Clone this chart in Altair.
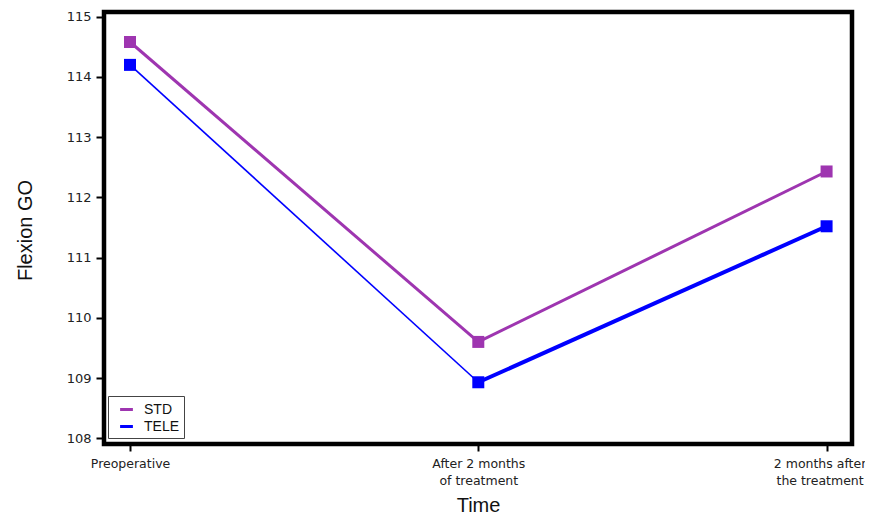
import altair as alt
import pandas as pd

# ---- data ----
categories = ["Preoperative", "After 2 months\nof treatment", "2 months after\nthe treatment"]
groups = ["STD", "TELE"]
std_values = [114.58, 109.60, 112.43]
tele_values = [114.20, 108.93, 111.52]
y_ticks = [108, 109, 110, 111, 112, 113, 114, 115]

# ---- styles (kept separate from data) ----
colors = {"STD": "#9E35B0", "TELE": "#0000FF"}
seg_widths = {"STD": [3.0, 3.0], "TELE": [1.6, 4.0]}

series = {"STD": std_values, "TELE": tele_values}

pts = []
for g in groups:
    for i, v in enumerate(series[g]):
        pts.append({"group": g, "x": i, "value": v})
points = pd.DataFrame(pts)

segs = []
for g in groups:
    vals = series[g]
    for i in range(len(vals) - 1):
        sid = f"{g}-{i}"
        w = seg_widths[g][i]
        segs.append({"group": g, "seg": sid, "x": i, "value": vals[i], "w": w})
        segs.append({"group": g, "seg": sid, "x": i + 1, "value": vals[i + 1], "w": w})
segments = pd.DataFrame(segs)


def js_label(s):
    parts = s.split("\n")
    if len(parts) == 1:
        return "'" + parts[0] + "'"
    return "[" + ",".join("'" + p + "'" for p in parts) + "]"


label_expr = "[" + ",".join(js_label(c) for c in categories) + "][datum.value]"

color_scale = alt.Scale(domain=groups, range=[colors[g] for g in groups])

LABEL_FONT = "DejaVu Sans"
TITLE_FONT = "Liberation Sans"
NBSP = "\u00a0"

x_enc = alt.X(
    "x:Q",
    scale=alt.Scale(domain=[-0.0747, 2.073], nice=False, zero=False),
    axis=alt.Axis(
        values=[0, 1, 2],
        labelExpr=label_expr,
        labelOffset={"condition": {"test": "datum.value == 2", "value": -7}, "value": 0},
        title="Time",
        grid=False,
        domain=False,
        tickColor="black",
        tickWidth=2,
        tickSize=7,
        labelFontSize=12.5,
        labelLineHeight=17,
        labelPadding=6,
        labelColor="#222222",
        labelFont=LABEL_FONT,
        titleFont=TITLE_FONT,
        titleFontSize=20,
        titleFontWeight="normal",
        titleColor="#111111",
        titleX=374,
        titleY=61,
        titleBaseline="middle",
        titleAlign="center",
    ),
)

y_enc = alt.Y(
    "value:Q",
    scale=alt.Scale(domain=[107.905, 115.078], nice=False, zero=False),
    axis=alt.Axis(
        values=y_ticks,
        format="d",
        title="Flexion GO",
        grid=False,
        domain=False,
        tickColor="black",
        tickWidth=2,
        tickSize=8,
        labelFontSize=13,
        labelPadding=5,
        labelColor="#222222",
        labelFont=LABEL_FONT,
        titleFont=TITLE_FONT,
        titleFontSize=20,
        titleFontWeight="normal",
        titleColor="#111111",
        titleAngle=-90,
        titleX=-79,
        titleY=218,
        titleBaseline="middle",
        titleAlign="center",
    ),
)

lines = (
    alt.Chart(segments)
    .mark_line()
    .encode(
        x=x_enc,
        y=y_enc,
        detail="seg:N",
        strokeWidth=alt.StrokeWidth("w:Q", scale=None),
        color=alt.Color(
            "group:N",
            scale=color_scale,
            legend=alt.Legend(
                title=None,
                orient="none",
                legendX=4,
                legendY=384,
                symbolType="M-0.8,0H0.8",
                symbolStrokeWidth=3,
                symbolSize=256,
                symbolOffset=5,
                labelExpr="datum.label + '" + NBSP * 2 + "'",
                labelFontSize=14,
                labelFont=TITLE_FONT,
                labelColor="#111111",
                strokeColor="#444444",
                fillColor="white",
                padding=4,
                rowPadding=0,
                labelOffset=8,
            ),
        ),
    )
)

markers = (
    alt.Chart(points)
    .mark_square(size=144, opacity=1, filled=True)
    .encode(
        x="x:Q",
        y="value:Q",
        color=alt.Color("group:N", scale=color_scale, legend=None),
    )
)

chart = (
    alt.layer(lines, markers)
    .properties(
        width=748,
        height=432,
        autosize=alt.AutoSizeParams(type="none"),
        padding={"left": 96, "top": 4, "right": 13, "bottom": 70},
        background="white",
    )
    .configure_view(stroke="black", strokeWidth=4.5)
)

chart.save("out.html", embed_options={"renderer": "svg", "actions": False})
